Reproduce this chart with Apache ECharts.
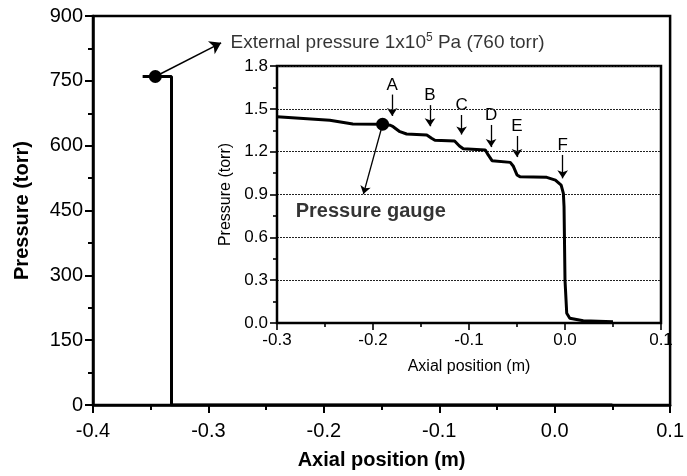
<!DOCTYPE html>
<html>
<head>
<meta charset="utf-8">
<script src="https://cdn.jsdelivr.net/npm/echarts@6/dist/echarts.min.js"></script>
<style>
  html, body { margin: 0; padding: 0; background: #fff; }
  #chart { width: 687px; height: 476px; }
</style>
</head>
<body>
<div id="chart"></div>
<script>
// Full-range pressure profile (torr) along the axis (m)
const mainX = [-0.357, -0.332, -0.332, 0.050];
const mainP = [760, 760, 0, 0];
// External-pressure reference point
const extPoint = [-0.346, 760];
const extArrowTip = [-0.289, 838];

// Inset: low-pressure region detail
const insetX = [-0.300, -0.245, -0.221, -0.190, -0.182, -0.179, -0.172, -0.165, -0.144, -0.139,
                -0.1355, -0.115, -0.110, -0.106, -0.083, -0.080, -0.076, -0.057, -0.054, -0.050,
                -0.047, -0.019, -0.010, -0.004, -0.0017, -0.001, 0.000, 0.0018, 0.005, 0.019, 0.050];
const insetP = [1.445, 1.420, 1.394, 1.392, 1.385, 1.375, 1.340, 1.324, 1.317, 1.294,
                1.280, 1.275, 1.240, 1.221, 1.212, 1.177, 1.137, 1.125, 1.100, 1.037,
                1.025, 1.020, 1.001, 0.966, 0.908, 0.814, 0.300, 0.068, 0.033, 0.016, 0.009];
const gaugePoint = [-0.190, 1.392];
const gaugeArrowTip = [-0.210, 0.903];
const gaugeLabelAt = [-0.281, 0.784];

// Step markers A-F: x position, arrow start and end pressure
const stepNames = ['A', 'B', 'C', 'D', 'E', 'F'];
const stepX = [-0.180, -0.1406, -0.1077, -0.077, -0.050, -0.0024];
const stepFrom = [1.60, 1.526, 1.457, 1.387, 1.31, 1.177];
const stepTo = [1.45, 1.378, 1.320, 1.232, 1.162, 1.013];

// Axis tick settings
const mainXTicks = { min: -0.4, max: 0.1, interval: 0.1 };
const mainYTicks = { min: 0, max: 900, interval: 150 };
const insetXTicks = { min: -0.3, max: 0.1, interval: 0.1 };
const insetYTicks = { min: 0, max: 1.8, interval: 0.3 };

const FONT = "'Liberation Sans', Arial, Helvetica, sans-serif";
const fmt1 = v => (Math.abs(v) < 1e-9 ? 0 : v).toFixed(1);

const chart = echarts.init(document.getElementById('chart'), null, { renderer: 'canvas' });

function axisCommon(lineW, tickLen, fontSize, margin) {
  return {
    axisLine: { show: true, onZero: false, lineStyle: { color: '#000', width: lineW } },
    axisTick: { show: true, inside: false, length: tickLen, lineStyle: { color: '#000', width: lineW * 0.8 } },
    minorTick: { show: true, splitNumber: 2, length: Math.round(tickLen * 0.6), lineStyle: { color: '#000', width: lineW * 0.8 } },
    axisLabel: { color: '#000', fontFamily: FONT, fontSize: fontSize, margin: margin, formatter: null },
    nameTextStyle: { color: '#000', fontFamily: FONT }
  };
}

const mx = axisCommon(2.5, 8, 20, 16);
mx.axisLabel.formatter = fmt1;
const my = axisCommon(2.5, 8, 20, 10);
const ix = axisCommon(2, 7, 17, 9);
ix.axisLabel.formatter = fmt1;
const iy = axisCommon(2, 7, 17, 9);
iy.axisLabel.formatter = fmt1;

const stepLines = stepNames.map((n, i) => [
  { coord: [stepX[i], stepFrom[i]], name: n },
  { coord: [stepX[i], stepTo[i]] }
]);

const dotStyle = { color: '#000', opacity: 1 };

const option = {
  animation: false,
  backgroundColor: '#fff',
  grid: [
    { left: 93, top: 16, width: 581, height: 389, show: true, borderColor: '#000', borderWidth: 2.5, backgroundColor: 'transparent' },
    { left: 277, top: 66, width: 384, height: 257, show: true, borderColor: '#000', borderWidth: 2.5, backgroundColor: '#fff', z: 5 }
  ],
  xAxis: [
    Object.assign({}, mx, {
      gridIndex: 0, type: 'value', ...mainXTicks,
      name: 'Axial position (m)', nameLocation: 'middle', nameGap: 45,
      nameTextStyle: { color: '#000', fontFamily: FONT, fontSize: 20, fontWeight: 'bold' },
      splitLine: { show: false }
    }),
    Object.assign({}, ix, {
      gridIndex: 1, type: 'value', ...insetXTicks,
      name: 'Axial position (m)', nameLocation: 'middle', nameGap: 36,
      nameTextStyle: { color: '#000', fontFamily: FONT, fontSize: 16 },
      splitLine: { show: false }, z: 6
    })
  ],
  yAxis: [
    Object.assign({}, my, {
      gridIndex: 0, type: 'value', ...mainYTicks,
      name: 'Pressure (torr)', nameLocation: 'middle', nameGap: 61,
      nameTextStyle: { color: '#000', fontFamily: FONT, fontSize: 20, fontWeight: 'bold' },
      splitLine: { show: false }
    }),
    Object.assign({}, iy, {
      gridIndex: 1, type: 'value', ...insetYTicks,
      name: 'Pressure (torr)', nameLocation: 'middle', nameGap: 37,
      nameTextStyle: { color: '#000', fontFamily: FONT, fontSize: 16 },
      splitLine: { show: true, lineStyle: { color: '#222', width: 1, type: [2, 1] } }, z: 6
    })
  ],
  series: [
    {
      type: 'line', xAxisIndex: 0, yAxisIndex: 0,
      data: mainX.map((x, i) => [x, mainP[i]]),
      showSymbol: false, symbol: 'none',
      lineStyle: { color: '#000', width: 3 }, z: 3,
      markLine: {
        silent: true, symbol: ['none', 'arrow'], symbolSize: 11,
        lineStyle: { color: '#000', width: 1.5, type: 'solid' },
        label: { show: false },
        data: [[{ coord: extPoint }, { coord: extArrowTip }]]
      }
    },
    {
      type: 'scatter', xAxisIndex: 0, yAxisIndex: 0,
      data: [extPoint], symbolSize: 13, itemStyle: dotStyle, z: 4
    },
    {
      type: 'scatter', xAxisIndex: 0, yAxisIndex: 0,
      data: [extArrowTip], symbolSize: 1, itemStyle: { color: 'rgba(0,0,0,0)' },
      label: {
        show: true, position: 'right', distance: 9,
        formatter: '{a|External pressure 1x10}{s|5}{a| Pa (760 torr)}',
        rich: {
          a: { fontFamily: FONT, fontSize: 19, color: '#000', lineHeight: 22 },
          s: { fontFamily: FONT, fontSize: 12, color: '#000', verticalAlign: 'top', lineHeight: 22, padding: [0, 0, 8, 0] }
        }
      }
    },
    {
      type: 'line', xAxisIndex: 1, yAxisIndex: 1,
      data: insetX.map((x, i) => [x, insetP[i]]),
      showSymbol: false, symbol: 'none',
      lineStyle: { color: '#000', width: 3 }, z: 10,
      markLine: {
        silent: true, symbol: ['none', 'arrow'], symbolSize: 8,
        lineStyle: { color: '#000', width: 1.3, type: 'solid' },
        label: {
          show: true, position: 'start', distance: 1, formatter: '{b}',
          color: '#000', fontFamily: FONT, fontSize: 17
        },
        data: stepLines.concat([[{ coord: gaugePoint, name: '' }, { coord: gaugeArrowTip }]])
      }
    },
    {
      type: 'scatter', xAxisIndex: 1, yAxisIndex: 1,
      data: [gaugePoint], symbolSize: 13, itemStyle: dotStyle, z: 11
    },
    {
      type: 'scatter', xAxisIndex: 1, yAxisIndex: 1,
      data: [gaugeLabelAt], symbolSize: 1, itemStyle: { color: 'rgba(0,0,0,0)' }, z: 11,
      label: {
        show: true, position: 'right', distance: 0, formatter: 'Pressure gauge',
        color: '#000', fontFamily: FONT, fontSize: 20, fontWeight: 'bold'
      }
    }
  ]
};

chart.setOption(option);
</script>
</body>
</html>
